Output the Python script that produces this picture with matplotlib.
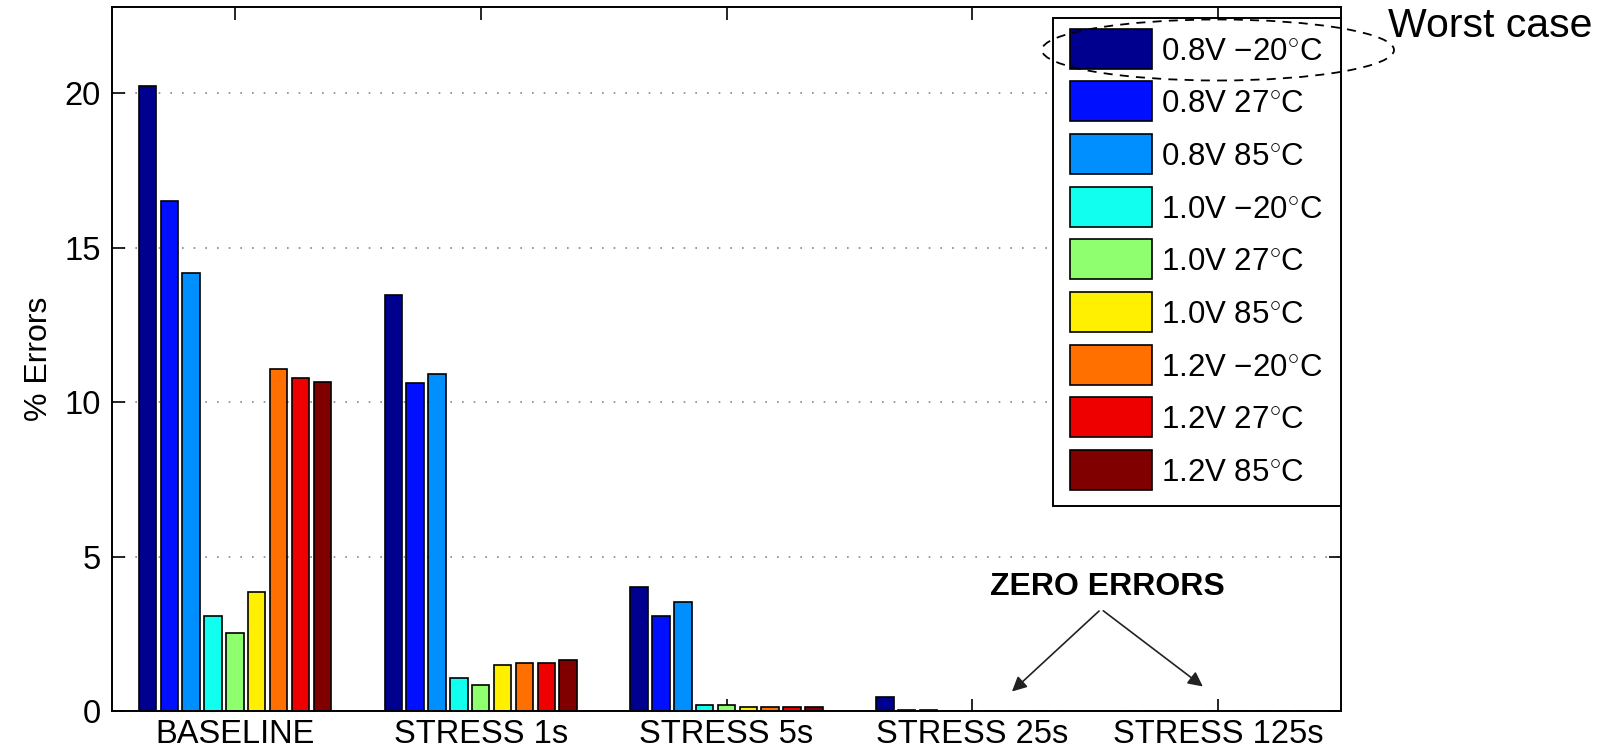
import numpy as np
import matplotlib
matplotlib.use("Agg")
import matplotlib.pyplot as plt
from matplotlib.patches import Ellipse, Rectangle
from matplotlib.container import BarContainer
from matplotlib.legend_handler import HandlerPatch, update_from_first_child

plt.rcParams["font.family"] = ["Liberation Sans", "DejaVu Sans"]
plt.rcParams["mathtext.fontset"] = "custom"
plt.rcParams["mathtext.rm"] = "Liberation Sans"

# data
groups = ["BASELINE", "STRESS 1s", "STRESS 5s", "STRESS 25s", "STRESS 125s"]
corners = ["0.8V \u221220$^{\\circ}$C", "0.8V 27$^{\\circ}$C", "0.8V 85$^{\\circ}$C",
           "1.0V \u221220$^{\\circ}$C", "1.0V 27$^{\\circ}$C", "1.0V 85$^{\\circ}$C",
           "1.2V \u221220$^{\\circ}$C", "1.2V 27$^{\\circ}$C", "1.2V 85$^{\\circ}$C"]
v08_m20 = [20.25, 13.48, 4.02, 0.45, 0.0]
v08_27 = [16.51, 10.61, 3.08, 0.02, 0.0]
v08_85 = [14.17, 10.90, 3.53, 0.02, 0.0]
v10_m20 = [3.08, 1.07, 0.20, 0.0, 0.0]
v10_27 = [2.51, 0.85, 0.20, 0.0, 0.0]
v10_85 = [3.85, 1.49, 0.13, 0.0, 0.0]
v12_m20 = [11.08, 1.55, 0.13, 0.0, 0.0]
v12_27 = [10.79, 1.56, 0.13, 0.0, 0.0]
v12_85 = [10.66, 1.66, 0.13, 0.0, 0.0]
series = [v08_m20, v08_27, v08_85, v10_m20, v10_27, v10_85, v12_m20, v12_27, v12_85]
# matlab jet(64) sampled for 9 series
colors = ["#00008F", "#0010FF", "#008FFF", "#10FFEF", "#8FFF70",
          "#FFEF00", "#FF7000", "#EF0000", "#800000"]

fig = plt.figure(figsize=(16.1, 7.52), dpi=100)
ax = fig.add_axes([112 / 1610, 1 - 711 / 752, 1229 / 1610, 704 / 752])

x = np.arange(1, len(groups) + 1)
pitch = 0.8 / len(series)
for i, (vals, c, lab) in enumerate(zip(series, colors, corners)):
    ax.bar(x + (i - 4) * pitch, vals, width=pitch * 0.8, color=c, edgecolor="black",
           linewidth=1.2, label=lab, zorder=2)

ax.set_xlim(0.5, 5.5)
ax.set_ylim(0, 22.8)
ax.set_xticks(x)
ax.set_xticklabels(groups)
ax.set_yticks([0, 5, 10, 15, 20])
ax.tick_params(direction="in", length=9, width=1.2, labelsize=23.5, top=True, right=True)
ax.tick_params(axis="x", pad=6)
ax.tick_params(axis="y", pad=8)
ax.set_axisbelow(True)
ax.yaxis.grid(True, linestyle=(0, (1, 6)), linewidth=1.2, color="#888888")
for s in ax.spines.values():
    s.set_linewidth(1.4)

ax.set_ylabel("% Errors", fontsize=23)
ax.yaxis.set_label_coords(-0.047, 0.5)


# matlab puts the label text low on the colour swatch (sizes in points)
def tall_patch(legend, orig_handle, xdescent, ydescent, width, height, fontsize):
    return Rectangle((-xdescent, -ydescent - 4.9), width, 28.8)


swatch = HandlerPatch(patch_func=tall_patch, update_func=update_from_first_child)
leg = ax.legend(loc="upper left", bbox_to_anchor=(0.7654, 0.984), borderaxespad=0,
                fontsize=22.5, handlelength=2.61, handleheight=0.9, labelspacing=0.70,
                handletextpad=0.30, borderpad=0.57, fancybox=False, framealpha=1,
                edgecolor="black", handler_map={BarContainer: swatch})
leg.get_frame().set_linewidth(1.4)

ax.text(4.55, 3.76, "ZERO ERRORS", fontsize=23, fontweight="bold", ha="center", va="baseline")
for xh, yh in [(4.153, 0.57), (4.947, 0.74)]:
    ax.annotate("", xy=(xh, yh), xytext=(4.524, 3.30),
                arrowprops=dict(arrowstyle="-|>", color="#222222", lw=1.2, mutation_scale=22))

# worst case callout
fig.add_artist(Ellipse((1218 / 1610, 1 - 50 / 752), 352 / 1610, 61 / 752,
                       transform=fig.transFigure, fill=False, edgecolor="black",
                       linestyle=(0, (5, 4)), linewidth=1.3, zorder=10))
fig.text(1388 / 1610, 1 - 36.7 / 752, "Worst case", fontsize=29.5, ha="left", va="baseline")

plt.savefig("out.png", dpi=100)
